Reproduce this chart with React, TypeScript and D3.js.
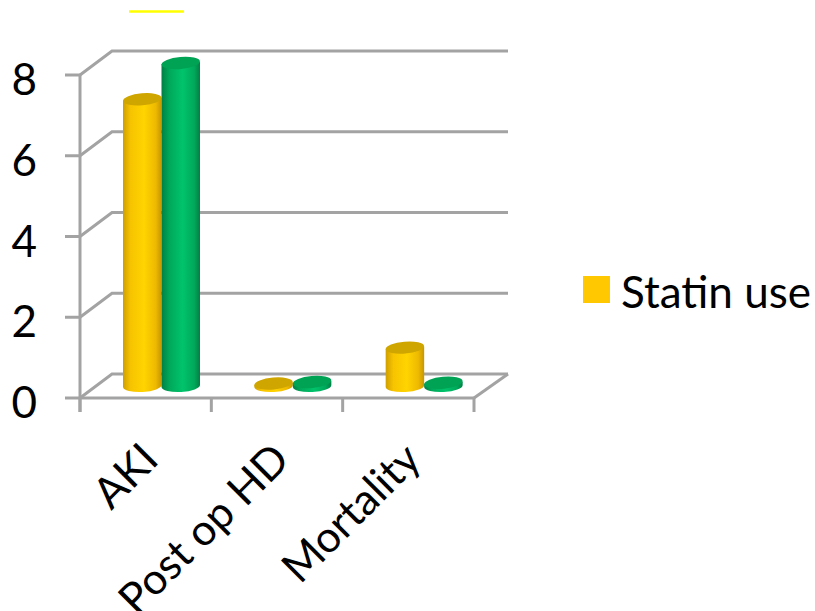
import React from "react";
import * as d3 from "d3";

const categories = ["AKI", "Post op HD", "Mortality"];
const yTicks = [0, 2, 4, 6, 8];
const statinUse = [7.1, 0.06, 0.95];
const noStatin = [8, 0.1, 0.08];
const legendLabel = "Statin use";

const W = 815;
const H = 611;
const FONT = "Lato, Carlito, 'Open Sans', sans-serif";
const GREY = "#a3a3a3";
const DEPTH_X = 32;
const DEPTH_Y = -24;

const x = d3.scaleBand<string>().domain(categories).range([80, 474]);
const y = d3.scaleLinear().domain([0, 8]).range([398, 75]);
// Cylinders stand part-way into the floor's depth.
const barX = d3.scaleBand<string>().domain(["a", "b"]).range([43, 120]);
const barBaseShift = -12;

function Cylinder({ cx, rx, value, grad, top }: { cx: number; rx: number; value: number; grad: string; top: string }) {
  const ry = 6;
  const tilt = 0.055;
  const by = y(0) + barBaseShift;
  const ty = y(value) + barBaseShift;
  const dy = rx * tilt;
  const d = `M${cx - rx},${ty + dy} L${cx - rx},${by + dy} A${rx},${ry} -3 0 0 ${cx + rx},${by - dy} L${cx + rx},${ty - dy} Z`;
  return (
    <g>
      <path d={d} fill={`url(#${grad})`} />
      <ellipse cx={cx} cy={ty} rx={rx} ry={ry} fill={top} transform={`rotate(-5 ${cx} ${ty})`} />
    </g>
  );
}

export default function App() {
  const rx = barX.bandwidth() / 2;
  const left = x.range()[0];
  const right = x.range()[1];
  const edges = [...categories.map((c) => x(c) as number), right];
  return (
    <svg width={W} height={H} style={{ position: "absolute", left: 0, top: 0 }} fontFamily={FONT}>
      <defs>
        <linearGradient id="gold" x1="0" x2="1" y1="0" y2="0">
          <stop offset="0" stopColor="#cf9f00" />
          <stop offset="0.2" stopColor="#f7c400" />
          <stop offset="0.55" stopColor="#ffd400" />
          <stop offset="0.85" stopColor="#eeb900" />
          <stop offset="1" stopColor="#c49700" />
        </linearGradient>
        <linearGradient id="jade" x1="0" x2="1" y1="0" y2="0">
          <stop offset="0" stopColor="#007f45" />
          <stop offset="0.2" stopColor="#00a85a" />
          <stop offset="0.55" stopColor="#00c46b" />
          <stop offset="0.85" stopColor="#00a85a" />
          <stop offset="1" stopColor="#007f45" />
        </linearGradient>
      </defs>

      <line x1={129} x2={184} y1={11.5} y2={11.5} stroke="#ffff00" strokeWidth={2.5} />

      {/* back wall gridlines and their slanted returns */}
      {yTicks.map((t) => (
        <g key={t} stroke={GREY} strokeWidth={3} fill="none">
          <path d={`M${left},${y(t)} L${left + DEPTH_X},${y(t) + DEPTH_Y} L${right + DEPTH_X + 2},${y(t) + DEPTH_Y}`} />
          <line x1={left - 15} x2={left} y1={y(t)} y2={y(t)} />
        </g>
      ))}
      <path d={`M${right},${y(0)} L${right + DEPTH_X + 2},${y(0) + DEPTH_Y}`} stroke={GREY} strokeWidth={3} fill="none" />
      <line x1={left} x2={left} y1={y(8)} y2={y(0) + 14} stroke={GREY} strokeWidth={3} />
      <line x1={left} x2={right} y1={y(0)} y2={y(0)} stroke={GREY} strokeWidth={3} />
      {edges.map((e) => (
        <line key={e} x1={e} x2={e} y1={y(0)} y2={y(0) + 14} stroke={GREY} strokeWidth={3} />
      ))}

      {categories.map((c, i) => {
        const x0 = x(c) as number;
        return (
          <g key={c}>
            <Cylinder cx={x0 + (barX("a") as number) + rx} rx={rx} value={statinUse[i]} grad="gold" top="#cfa500" />
            <Cylinder cx={x0 + (barX("b") as number) + rx} rx={rx} value={noStatin[i]} grad="jade" top="#00a253" />
          </g>
        );
      })}

      {yTicks.map((t) => (
        <text key={t} x={37} y={y(t) + 20} textAnchor="end" fontSize={44} fill="#000">
          {t}
        </text>
      ))}

      {categories.map((c) => {
        const px = (x(c) as number) + x.bandwidth() / 2 - 9;
        const py = 438;
        return (
          <text key={c} transform={`translate(${px},${py}) rotate(-45)`} textAnchor="end" dominantBaseline="hanging" fontSize={43} fill="#000">
            {c}
          </text>
        );
      })}

      <rect x={583} y={276} width={27} height={27} fill="#ffc800" />
      <text x={621} y={308} fontSize={44} fill="#000">
        {legendLabel}
      </text>
    </svg>
  );
}
